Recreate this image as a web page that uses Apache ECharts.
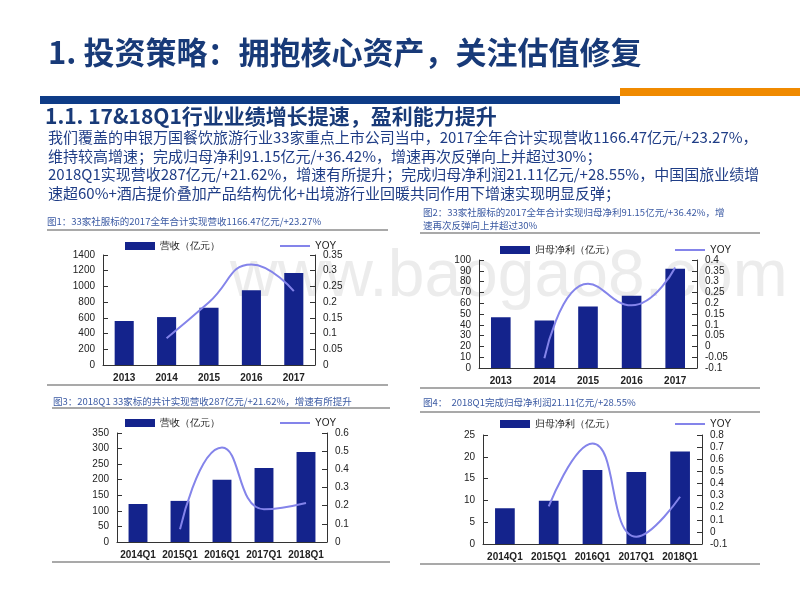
<!DOCTYPE html>
<html><head><meta charset="utf-8">
<script src="https://cdn.jsdelivr.net/npm/echarts@6/dist/echarts.min.js"></script>
<style>html,body{margin:0;padding:0;background:#fff}#c{width:800px;height:600px}</style>
</head><body><div id="c"></div>
<script>
const yearCats = ['2013','2014','2015','2016','2017'];
const qCats = ['2014Q1','2015Q1','2016Q1','2017Q1','2018Q1'];
const rev17 = [560, 610, 730, 950, 1170];
const revYoy17 = [null, 0.085, 0.2, 0.32, 0.235];
const np17 = [47, 44, 57, 67, 92];
const npYoy17 = [null, -0.055, 0.29, 0.19, 0.365];
const revQ1 = [122, 132, 200, 238, 289];
const revYoyQ1 = [null, 0.07, 0.52, 0.18, 0.215];
const npQ1 = [8.2, 9.9, 17, 16.5, 21.2];
const npYoyQ1 = [null, 0.21, 0.73, -0.04, 0.29];
const barNames = ['营收（亿元）','归母净利（亿元）','营收（亿元）','归母净利（亿元）'];
const captions = ['图1：33家社服标的2017全年合计实现营收1166.47亿元/+23.27%',
 '图2：33家社服标的2017全年合计实现归母净利91.15亿元/+36.42%，增\n速再次反弹向上并超过30%',
 '图3：2018Q1 33家标的共计实现营收287亿元/+21.62%，增速有所提升',
 '图4：  2018Q1完成归母净利润21.11亿元/+28.55%'];
const bodyLines = ['我们覆盖的申银万国餐饮旅游行业33家重点上市公司当中，2017全年合计实现营收1166.47亿元/+23.27%，',
 '维持较高增速；完成归母净利91.15亿元/+36.42%，增速再次反弹向上并超过30%；',
 '2018Q1实现营收287亿元/+21.62%，增速有所提升；完成归母净利润21.11亿元/+28.55%，中国国旅业绩增',
 '速超60%+酒店提价叠加产品结构优化+出境游行业回暖共同作用下增速实现明显反弹；'];

const panels = [
 {cats:yearCats, bars:rev17, yoy:revYoy17, l:103, r:485, t:255, b:235, lmin:0,lmax:1400,li:200, rmin:0,rmax:0.35,ri:0.05, legY:236},
 {cats:yearCats, bars:np17, yoy:npYoy17, l:479, r:103, t:260, b:232, lmin:0,lmax:100,li:10, rmin:-0.1,rmax:0.4,ri:0.05, legY:240},
 {cats:qCats, bars:revQ1, yoy:revYoyQ1, l:117, r:473, t:433, b:58, lmin:0,lmax:350,li:50, rmin:0,rmax:0.6,ri:0.1, legY:413},
 {cats:qCats, bars:npQ1, yoy:npYoyQ1, l:483, r:98, t:435, b:56, lmin:0,lmax:25,li:5, rmin:-0.1,rmax:0.8,ri:0.1, legY:414}
];
const BAR='#14238c', LINE='#8484ea', NAVY='#183a78';
const lbl={fontFamily:'Arial, Liberation Sans',fontSize:10,color:'#222'};
const grid=[],xAxis=[],yAxis=[],series=[],legend=[];
panels.forEach((p,i)=>{
  grid.push({left:p.l,right:p.r,top:p.t,bottom:p.b});
  xAxis.push({type:'category',gridIndex:i,data:p.cats,axisTick:{show:false},axisLine:{lineStyle:{color:'#333'}},axisLabel:Object.assign({margin:8,interval:0,fontWeight:'bold'},lbl)});
  yAxis.push({type:'value',gridIndex:i,min:p.lmin,max:p.lmax,interval:p.li,splitLine:{show:false},axisLine:{show:true,lineStyle:{color:'#333'}},axisTick:{show:true,inside:true},axisLabel:Object.assign({formatter:v=>String(v)},lbl)});
  yAxis.push({type:'value',gridIndex:i,position:'right',min:p.rmin,max:p.rmax,interval:p.ri,splitLine:{show:false},axisLine:{show:true,lineStyle:{color:'#333'}},axisTick:{show:true,inside:true},axisLabel:Object.assign({formatter:v=>String(+v.toFixed(2))},lbl)});
  series.push({name:barNames[i],type:'bar',xAxisIndex:i,yAxisIndex:2*i,data:p.bars,barWidth:'45%',itemStyle:{color:BAR}});
  series.push({name:'YOY',type:'line',xAxisIndex:i,yAxisIndex:2*i+1,data:p.yoy,smooth:true,showSymbol:false,lineStyle:{color:LINE,width:2},itemStyle:{color:LINE}});
  const cx = i%2===0 ? 215 : 590;
  legend.push({top:p.legY,left:cx-95,itemGap:60,itemWidth:30,itemHeight:8,data:[{name:barNames[i],icon:'rect'},{name:'YOY',icon:'path://M0,0L30,0L30,2L0,2Z',itemStyle:{color:LINE}}],textStyle:{fontSize:10,color:'#222'},selectedMode:false});
});
const graphic=[
 {type:'text',left:48,top:37,style:{text:'1. 投资策略：拥抱核心资产，关注估值修复',font:'bold 31px "Noto Sans CJK SC"',fill:NAVY}},
 {type:'rect',shape:{x:40,y:96,width:580,height:8},style:{fill:'#0e3c87'}},
 {type:'rect',shape:{x:620,y:88,width:180,height:8},style:{fill:'#f08a00'}},
 {type:'text',left:45,top:106,style:{text:'1.1. 17&18Q1行业业绩增长提速，盈利能力提升',font:'bold 21px "Noto Sans CJK SC"',fill:NAVY}},
 {type:'text',left:230,top:245,z:-1,style:{text:'www.baogao8.com',font:'66px "Liberation Sans"',fill:'rgba(200,200,200,0.35)'}}
];
bodyLines.forEach((t,k)=>graphic.push({type:'text',left:48,top:130+k*18.5,style:{text:t,font:'15px "Noto Sans CJK SC"',fill:'#1f3d86'}}));
const capPos=[[47,215],[423,206],[53,395],[423,396]];
captions.forEach((t,k)=>graphic.push({type:'text',left:capPos[k][0],top:capPos[k][1],style:{text:t,font:'9.5px "Noto Sans CJK SC"',fill:'#3b5aa3',lineHeight:13}}));
[[47,388,230],[47,388,385],[420,760,233],[420,760,388],[52,390,408],[52,390,562],[420,760,412],[420,760,564]].forEach(l=>graphic.push({type:'line',shape:{x1:l[0],y1:l[2],x2:l[1],y2:l[2]},style:{stroke:'#555',lineWidth:1.2}}));
const chart=echarts.init(document.getElementById('c'));
chart.setOption({animation:false,grid,xAxis,yAxis,series,legend,graphic});
</script></body></html>
